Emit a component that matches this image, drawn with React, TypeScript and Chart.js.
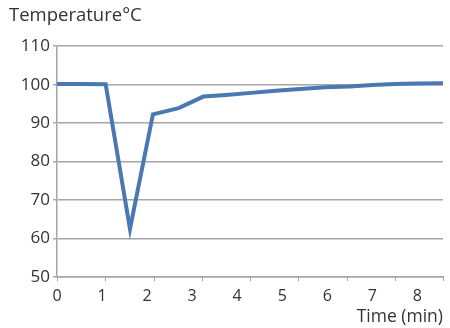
import React, { useEffect, useRef } from "react";
import { Chart, registerables } from "chart.js";

Chart.register(...registerables);

const timeMin = [0, 0.5, 1.08, 1.62, 2.13, 2.7, 3.25, 3.75, 4.25, 4.85, 5.4, 5.95, 6.5, 7.0, 7.5, 8.0, 8.57];
const temperature = [100.2, 100.2, 100.1, 62.5, 92.3, 93.9, 96.9, 97.3, 97.8, 98.4, 98.9, 99.3, 99.5, 99.9, 100.2, 100.3, 100.4];
const yTicks = [50, 60, 70, 80, 90, 100, 110];
const xMax = 8.57;
const xTickMarkDivisions = 8;

const FONT = "'Open Sans', 'Noto Sans', sans-serif";
const TEXT = "#333333";
const GRID = "#a6a6a6";

const tickMarkPlugin = {
  id: "xTickMarks",
  afterDraw(chart: any) {
    const s = chart.scales.x;
    const ctx = chart.ctx;
    ctx.save();
    ctx.strokeStyle = GRID;
    ctx.lineWidth = 1;
    for (let i = 0; i <= xTickMarkDivisions; i++) {
      const x = Math.round(s.left + (i * (s.right - s.left)) / xTickMarkDivisions) + 0.5;
      ctx.beginPath();
      ctx.moveTo(x, s.top);
      ctx.lineTo(x, s.top + 4);
      ctx.stroke();
    }
    ctx.restore();
  },
};

export default function App() {
  const ref = useRef<HTMLCanvasElement | null>(null);
  useEffect(() => {
    if (!ref.current) return;
    const chart = new Chart(ref.current, {
      type: "line",
      data: {
        datasets: [
          {
            data: timeMin.map((t, i) => ({ x: t, y: temperature[i] })),
            borderColor: "#4a78b2",
            backgroundColor: "#4a78b2",
            borderWidth: 4,
            pointRadius: 0,
            tension: 0,
            fill: false,
          },
        ],
      },
      options: {
        animation: false,
        responsive: false,
        maintainAspectRatio: false,
        layout: { padding: { left: 9, right: 7, top: 0, bottom: 0 } },
        plugins: {
          legend: { display: false },
          tooltip: { enabled: false },
          title: {
            display: true,
            text: "Temperature°C",
            align: "start",
            color: TEXT,
            font: { family: FONT, size: 18.5, weight: "normal" },
            padding: { top: 5, bottom: 19 },
          },
        },
        scales: {
          x: {
            type: "linear",
            min: 0,
            max: xMax,
            grid: { display: false, drawTicks: false },
            border: { display: true, color: GRID, width: 1.5 },
            ticks: {
              stepSize: 1,
              includeBounds: false,
              color: TEXT,
              font: { family: FONT, size: 16 },
              padding: 10,
              maxRotation: 0,
            },
            title: {
              display: true,
              text: "Time (min)",
              align: "end",
              color: TEXT,
              font: { family: FONT, size: 17.5 },
              padding: { top: 0, bottom: 0 },
            },
            afterFit: (s: any) => {
              s.height = 51;
            },
          },
          y: {
            min: 50,
            max: 110,
            afterBuildTicks: (s: any) => {
              s.ticks = yTicks.map((v) => ({ value: v }));
            },
            grid: { color: GRID, lineWidth: 1.5, tickLength: 4, drawTicks: true },
            border: { display: true, color: GRID, width: 1.5 },
            ticks: {
              color: TEXT,
              font: { family: FONT, size: 17 },
              padding: 3,
            },
            afterFit: (s: any) => {
              s.width = 48;
            },
          },
        },
      },
      plugins: [tickMarkPlugin],
    } as any);
    return () => chart.destroy();
  }, []);
  return (
    <div style={{ position: "absolute", left: 0, top: 0, width: 450, height: 328, background: "#fff" }}>
      <canvas ref={ref} width={450} height={328} style={{ display: "block" }} />
    </div>
  );
}
